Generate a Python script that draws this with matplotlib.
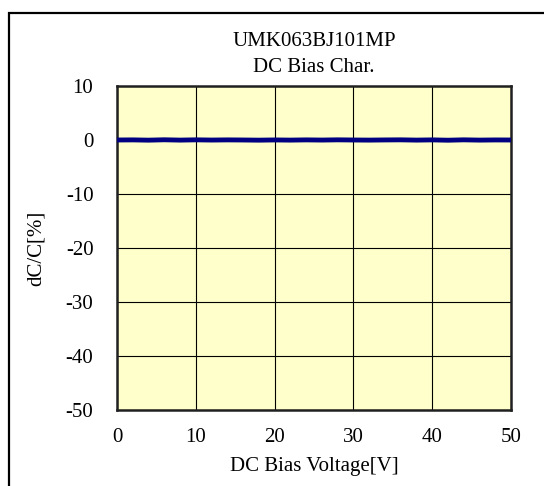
import matplotlib
matplotlib.use('Agg')
import matplotlib.pyplot as plt
from matplotlib.patches import Rectangle

plt.rcParams['font.family'] = ['Liberation Serif', 'DejaVu Serif']
plt.rcParams['axes.unicode_minus'] = False

# measured curve: dC/C stays at ~0 % over the whole bias range
voltage = [0, 2, 4, 6, 8, 10, 12, 14, 16, 18, 20, 22, 24, 26, 28, 30,
           32, 34, 36, 38, 40, 42, 44, 46, 48, 50]
dc_c = [0.0, 0.02, -0.03, 0.04, -0.02, 0.03, -0.01, 0.02, 0.0, -0.03, 0.01,
        -0.02, 0.02, -0.01, 0.03, 0.0, -0.02, 0.01, 0.03, -0.02, 0.02, -0.04,
        0.03, -0.02, 0.01, 0.0]

xticks = [0, 10, 20, 30, 40, 50]
yticks = [-50, -40, -30, -20, -10, 0, 10]

fig = plt.figure(figsize=(5.44, 4.86), dpi=100)
ax = fig.add_axes([117/544, 1 - 410/486, (511-117)/544, (410-86)/486])

# outer frame of the picture (runs off the right and bottom)
fig.patches.append(Rectangle((9/544, -0.1), 1.2, 1 - 13/486 + 0.1,
                             transform=fig.transFigure, fill=False,
                             edgecolor='black', linewidth=1.6, zorder=0))

ax.set_facecolor('#FFFFCC')
ax.plot(voltage, dc_c, color='#000080', linewidth=3.5, zorder=3)

ax.set_xlim(0, 50)
ax.set_ylim(-50, 10)
ax.set_xticks(xticks)
ax.set_yticks(yticks)
ax.tick_params(length=0, labelsize=15)
ax.tick_params(axis='y', pad=17)
ax.tick_params(axis='x', pad=13)
ax.grid(True, color='black', linewidth=0.8)
for s in ax.spines.values():
    s.set_linewidth(1.8)
    s.set_color('#202020')

ax.set_title('UMK063BJ101MP\nDC Bias Char.', fontsize=15, pad=10, linespacing=1.5)
ax.set_xlabel('DC Bias Voltage[V]', fontsize=15, labelpad=7)
ax.set_ylabel('dC/C[%]', fontsize=15, labelpad=14)

plt.savefig('out.png', dpi=100)
